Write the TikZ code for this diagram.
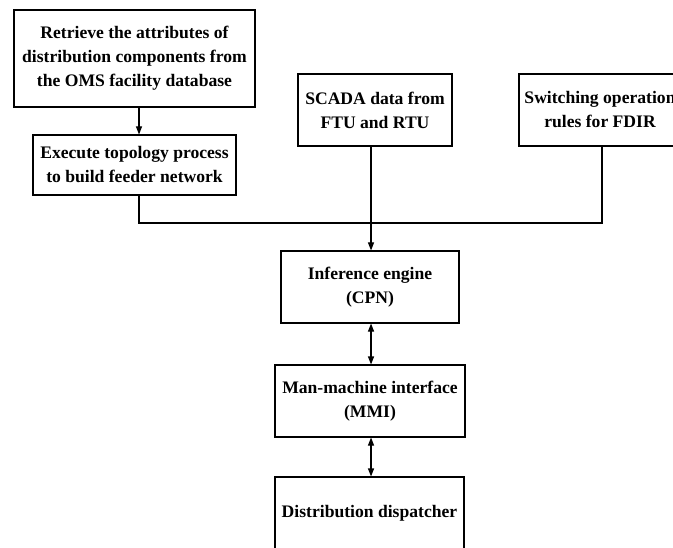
\documentclass[tikz,border=0pt]{standalone}
\usepackage{fontspec}
\setmainfont{Liberation Serif}
\usetikzlibrary{arrows.meta}
\begin{document}
\begin{tikzpicture}[x=0.75pt,y=-0.75pt,
  box/.style={draw, line width=0.8pt, align=center, inner sep=0pt,
    font=\fontsize{13.2}{18}\selectfont\bfseries},
  conn/.style={line width=0.8pt},
  arr/.style={conn, -{Triangle[length=6pt,width=4.5pt]}},
  darr/.style={conn, {Triangle[length=6pt,width=4.5pt]}-{Triangle[length=6pt,width=4.5pt]}}]
\useasboundingbox (0,0) rectangle (673,548);
\begin{scope}
\clip (0,0) rectangle (673,548);
\node[box, minimum width=241*0.75pt, minimum height=97*0.75pt] (b1) at (134.5,58.5)
  {Retrieve the attributes of\\distribution components from\\the OMS facility database};
\node[box, minimum width=203*0.75pt, minimum height=60*0.75pt] (b2) at (134.5,165)
  {Execute topology process\\to build feeder network};
\node[box, minimum width=154*0.75pt, minimum height=72*0.75pt] (sc) at (375,110)
  {SCADA data from\\FTU and RTU};
\node[box, minimum width=162*0.75pt, minimum height=72*0.75pt] (sw) at (600,110)
  {Switching operation\\rules for FDIR};
\node[box, minimum width=178*0.75pt, minimum height=72*0.75pt] (inf) at (370,287)
  {Inference engine\\(CPN)};
\node[box, minimum width=190*0.75pt, minimum height=72*0.75pt] (mmi) at (370,401)
  {Man-machine interface\\(MMI)};
\node[box, minimum width=189*0.75pt, minimum height=72*0.75pt] (dd) at (369.5,513)
  {Distribution dispatcher};
\coordinate (j1) at (139,223);
\coordinate (j2) at (602,223);
\coordinate (j3) at (371,223);
\draw[arr] (b1.south -| j1) -- (b2.north -| j1);
\draw[conn] (b2.south -| j1) -- (j1) -- (j2) -- (sw.south -| j2);
\draw[conn] (sc.south -| j3) -- (j3);
\draw[arr] (j3) -- (inf.north -| j3);
\draw[darr] (inf.south -| j3) -- (mmi.north -| j3);
\draw[darr] (mmi.south -| j3) -- (dd.north -| j3);
\end{scope}
\end{tikzpicture}
\end{document}
